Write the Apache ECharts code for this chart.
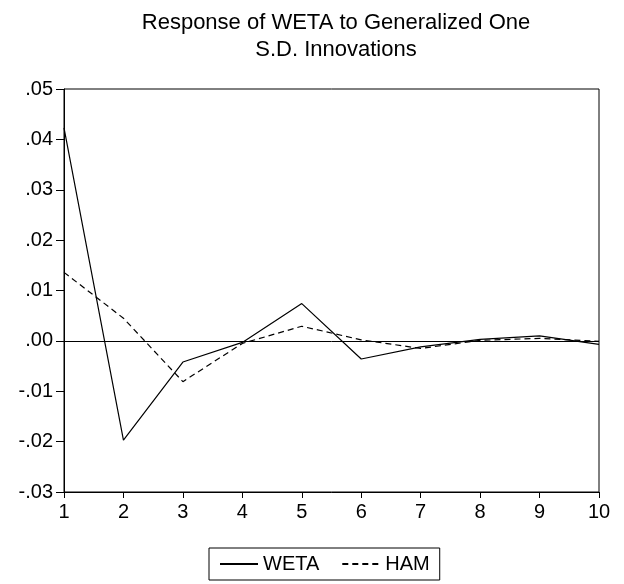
<!DOCTYPE html>
<html>
<head>
<meta charset="utf-8">
<script src="https://cdn.jsdelivr.net/npm/echarts@6/dist/echarts.min.js"></script>
<style>html,body{margin:0;padding:0;background:#fff;}#c{width:624px;height:584px;}</style>
</head>
<body>
<div id="c"></div>
<script>
const periods = [1,2,3,4,5,6,7,8,9,10];
const weta = [0.0423,-0.0197,-0.0042,-0.0003,0.0074,-0.0036,-0.0012,0.0003,0.0010,-0.0007];
const ham  = [0.0136,0.0045,-0.0081,-0.0005,0.0029,0.0002,-0.0015,0.0001,0.0005,-0.0001];
const titleText = 'Response of WETA to Generalized One\nS.D. Innovations';
const FONT = '"Liberation Sans", Arial, sans-serif';

const chart = echarts.init(document.getElementById('c'), null, {renderer:'canvas'});
const fmt = v => { let s = Number(v).toFixed(2); return s.replace('0.', '.'); };
chart.setOption({
  animation:false,
  backgroundColor:'#fff',
  title:{text:titleText,left:331,textAlign:'center',top:4,
    textStyle:{fontFamily:FONT,fontSize:22,fontWeight:'normal',color:'#000',lineHeight:27}},
  grid:{left:64,right:25,top:89,bottom:92,show:true,borderColor:'#000',borderWidth:1,backgroundColor:'transparent'},
  xAxis:{type:'value',min:1,max:10,interval:1,
    axisLine:{onZero:false,lineStyle:{color:'#000',width:1}},
    axisTick:{length:6,lineStyle:{color:'#000'}},
    axisLabel:{color:'#000',fontFamily:FONT,fontSize:20,margin:10},
    splitLine:{show:false}},
  yAxis:{type:'value',min:-0.03,max:0.05,interval:0.01,
    axisLine:{show:true,onZero:false,lineStyle:{color:'#000',width:1}},
    axisTick:{show:true,length:8,lineStyle:{color:'#000'}},
    axisLabel:{color:'#000',fontFamily:FONT,fontSize:20,margin:11,formatter:fmt},
    splitLine:{show:false}},
  legend:{left:209,top:548,orient:'horizontal',
    borderColor:'#000',borderWidth:1,padding:[6,10,6,10],itemGap:22,itemWidth:38,itemHeight:14,
    itemStyle:{opacity:0},
    textStyle:{fontFamily:FONT,fontSize:20,color:'#000'},
    data:['WETA','HAM']},
  series:[
    {name:'WETA',type:'line',data:periods.map((p,i)=>[p,weta[i]]),symbol:'none',showSymbol:false,
      lineStyle:{color:'#000',width:1.2,type:'solid'},itemStyle:{color:'#000'},
      markLine:{silent:true,symbol:'none',label:{show:false},lineStyle:{color:'#000',width:1,type:'solid'},data:[{yAxis:0}]}},
    {name:'HAM',type:'line',data:periods.map((p,i)=>[p,ham[i]]),symbol:'none',showSymbol:false,
      lineStyle:{color:'#000',width:1.2,type:[6,4]},itemStyle:{color:'#000'}}
  ]
});
</script>
</body>
</html>
